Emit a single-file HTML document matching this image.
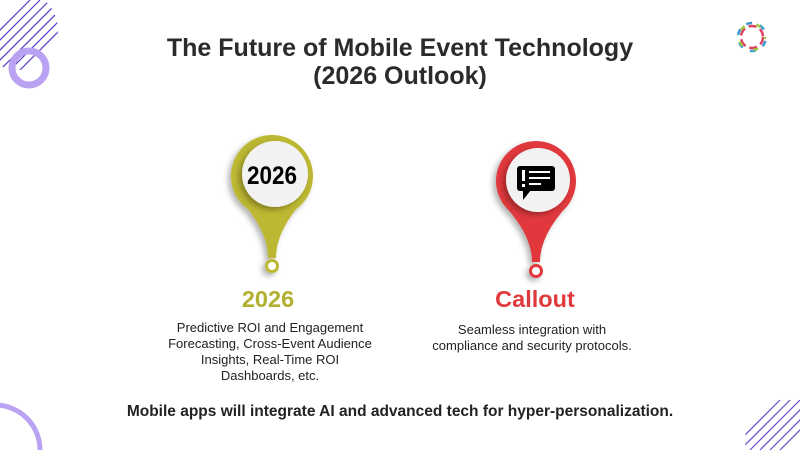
<!DOCTYPE html>
<html><head><meta charset="utf-8"><style>
html,body{margin:0;width:800px;height:450px;overflow:hidden}
body{background:#fff;position:relative;font-family:"Liberation Sans",sans-serif;color:#222}
.t{position:absolute;left:0;width:800px;text-align:center;font-weight:bold;font-size:25px;color:#2b2b2b;line-height:28px}
.h{position:absolute;font-weight:bold;font-size:23.5px;text-align:center;width:240px}
.d{position:absolute;font-size:13px;line-height:16px;text-align:center;color:#222}
</style></head><body>
<svg width="800" height="450" style="position:absolute;left:0;top:0;overflow:hidden">
<defs>
<clipPath id="c1"><circle cx="18" cy="30" r="40"/></clipPath>
<clipPath id="c2"><circle cx="790" cy="440" r="45"/></clipPath>
<filter id="sh"><feDropShadow dx="-3" dy="3" stdDeviation="3" flood-opacity="0.3"/></filter>
</defs>
<g clip-path="url(#c1)" stroke="#5b3bc4" stroke-width="1.2">
<line x1="-40" y1="80" x2="40" y2="0"/><line x1="-30" y1="80" x2="50" y2="0"/><line x1="-20" y1="80" x2="60" y2="0"/><line x1="-10" y1="80" x2="70" y2="0"/><line x1="0" y1="80" x2="80" y2="0"/><line x1="10" y1="80" x2="90" y2="0"/><line x1="-50" y1="80" x2="30" y2="0"/>
</g>
<circle cx="29" cy="68" r="17" fill="none" stroke="#b9a2f2" stroke-width="7"/>
<circle cx="-5" cy="450" r="45" fill="none" stroke="#b9a2f2" stroke-width="5"/>
<g clip-path="url(#c2)" stroke="#6a4acb" stroke-width="1.2">
<line x1="740" y1="450" x2="790" y2="400"/><line x1="750" y1="450" x2="800" y2="400"/><line x1="760" y1="450" x2="810" y2="400"/><line x1="770" y1="450" x2="820" y2="400"/><line x1="780" y1="450" x2="830" y2="400"/><line x1="730" y1="450" x2="780" y2="400"/>
</g>
<g fill="none" stroke-width="2.5">
<circle cx="752" cy="37" r="11" stroke="#e04060" stroke-dasharray="8 4"/>
<circle cx="752" cy="37" r="14" stroke="#3a9ad0" stroke-dasharray="6 8" stroke-dashoffset="10"/>
<circle cx="752" cy="37" r="13" stroke="#9ac840" stroke-dasharray="5 12" stroke-dashoffset="3"/>
</g>
<g filter="url(#sh)">
<path d="M240 200 Q268 230 268 258 L276 258 Q276 230 304 200 Z" fill="#bdb832"/>
<circle cx="272" cy="176" r="41" fill="#bdb832"/>
<circle cx="272" cy="266" r="7" fill="#bdb832"/>
</g>
<circle cx="272" cy="266" r="4" fill="#fff"/>
<circle cx="275" cy="174" r="33" fill="#f2f2f2" filter="url(#sh)"/>
<text x="272" y="184" font-family="Liberation Sans" font-weight="bold" font-size="25" text-anchor="middle" fill="#000" textLength="50" lengthAdjust="spacingAndGlyphs">2026</text>
<g filter="url(#sh)">
<path d="M504 205 Q532 235 532 262 L540 262 Q540 235 568 205 Z" fill="#e0393c"/>
<circle cx="536" cy="181" r="40" fill="#e0393c"/>
<circle cx="536" cy="271" r="7" fill="#e0393c"/>
</g>
<circle cx="536" cy="271" r="4" fill="#fff"/>
<circle cx="538" cy="180" r="32" fill="#f2f2f2" filter="url(#sh)"/>
<rect x="517" y="166" width="38" height="25" rx="3" fill="#000"/>
<path d="M523 190 L523 200 L531 190Z" fill="#000"/>
<rect x="522" y="170" width="3" height="11" fill="#fff"/><rect x="522" y="184" width="3" height="3" fill="#fff"/>
<rect x="529" y="171" width="21" height="2" fill="#fff"/><rect x="529" y="177" width="21" height="2" fill="#fff"/><rect x="529" y="183" width="12" height="2" fill="#fff"/>
</svg>
<div class="t" style="top:34px">The Future of Mobile Event Technology</div>
<div class="t" style="top:62px">(2026 Outlook)</div>
<div class="h" style="left:148px;top:286px;color:#b2b031">2026</div>
<div class="h" style="left:415px;top:286px;color:#e0393c">Callout</div>
<div class="d" style="left:150px;width:240px;top:320px">Predictive ROI and Engagement<br>Forecasting, Cross-Event Audience<br>Insights, Real-Time ROI<br>Dashboards, etc.</div>
<div class="d" style="left:412px;width:240px;top:322px">Seamless integration with<br>compliance and security protocols.</div>
<div style="position:absolute;left:0;width:800px;top:403px;text-align:center;font-weight:bold;font-size:15.5px;color:#222">Mobile apps will integrate AI and advanced tech for hyper-personalization.</div>
</body></html>
